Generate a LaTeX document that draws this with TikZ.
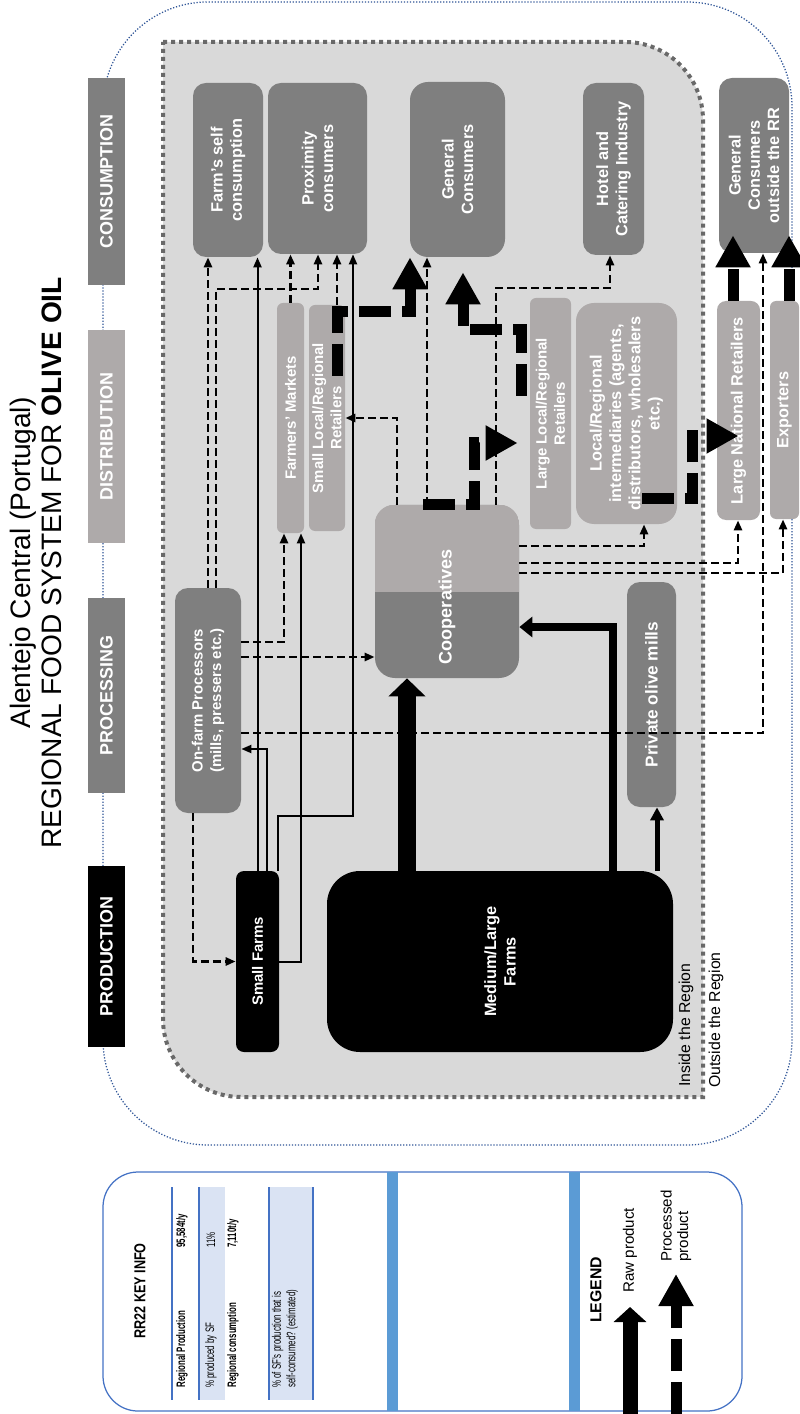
\documentclass[tikz,border=0pt]{standalone}
\usepackage{fontspec}
\setmainfont{Liberation Sans}
\usepackage{graphicx}
\usetikzlibrary{positioning}
\usetikzlibrary{arrows.meta,calc}

\definecolor{dkgray}{RGB}{127,127,127}
\definecolor{ltgray}{RGB}{174,170,170}
\definecolor{regiongray}{RGB}{217,217,217}
\definecolor{dotgray}{RGB}{105,105,105}
\definecolor{rrblue}{RGB}{47,85,151}
\definecolor{lineblue}{RGB}{68,114,196}
\definecolor{barblue}{RGB}{91,155,213}
\definecolor{rowblue}{RGB}{218,227,243}

\newcommand{\boxfont}{\fontsize{9.3}{11}\selectfont\bfseries}
\newcommand{\smallboxfont}{\fontsize{8.5}{10.4}\selectfont\bfseries}
\newcommand{\phasefont}{\fontsize{10.2}{12}\selectfont\bfseries}
\newcommand{\keytxt}[1]{\scalebox{0.64}[1]{#1}}

\tikzset{
  box/.style={rotate=90, rounded corners=2.6mm, text=white, font=\boxfont, align=center, inner sep=0pt},
  dkbox/.style={box, fill=dkgray},
  ltbox/.style={box, fill=ltgray},
  blkbox/.style={box, fill=black},
  phase/.style={rotate=90, minimum height=7.4mm, text=white, font=\phasefont, inner sep=0pt},
  lbl/.style={rotate=90, anchor=west, inner sep=0pt, align=left},
  keyrow/.style={lbl, font=\fontsize{7}{8.3}\selectfont},
  raw/.style={line width=0.4mm, -{Triangle[length=2mm,width=1.6mm]}},
  proc/.style={line width=0.5mm, dash pattern=on 1.6mm off 0.8mm, -{Triangle[length=2mm,width=1.6mm]}},
  rawthick/.style={line width=3.6mm, -{Triangle[length=3.6mm,width=7.2mm]}},
  procthick/.style={line width=2.2mm, dash pattern=on 6.4mm off 2.2mm, -{Triangle[length=6.4mm,width=6.6mm]}},
}

\begin{document}
\begin{tikzpicture}[x=0.2mm, y=-0.2mm]
 \useasboundingbox (0,0) rectangle (799,1414);
 % region outline and key box
 \draw[rrblue, line width=0.25mm, densely dotted, rounded corners=21mm] (103,2) rectangle (792,1145);
 \draw[lineblue, line width=0.25mm, rounded corners=7mm] (103,1172) rectangle (742,1411);
 \fill[barblue] (387,1172) rectangle (398,1411);
 \fill[barblue] (569,1172) rectangle (580,1411);
 % title
 \node[rotate=90, align=center, font=\fontsize{16}{17.6}\selectfont] (title) at (36,563)
  {Alentejo Central (Portugal)\\REGIONAL FOOD SYSTEM FOR \textbf{OLIVE OIL}};
 % phases
 \node[phase, fill=black, minimum width=36.2mm] (pprod) at (106.5,956.5) {PRODUCTION};
 \node[phase, fill=dkgray, minimum width=39mm] (pproc) at (106.5,695.5) {PROCESSING};
 \node[phase, fill=ltgray, minimum width=42.6mm] (pdist) at (106.5,436.5) {DISTRIBUTION};
 \node[phase, fill=dkgray, minimum width=41.4mm] (pcons) at (106.5,181.5) {CONSUMPTION};
 % inside the region
 \filldraw[fill=regiongray, draw=dotgray, line width=0.8mm, dash pattern=on 0.8mm off 0.8mm]
  (163,42) -- (625,42) .. controls (668,42) and (703,77) .. (703,120) -- (703,1097)
  -- (241,1097) .. controls (198,1097) and (163,1062) .. (163,1019) -- cycle;
 \node[lbl, font=\fontsize{9}{10}\selectfont] (inside) at (686,1087) {Inside the Region};
 \node[lbl, font=\fontsize{9}{10}\selectfont] (outside) at (716,1088) {Outside the Region};
 % consumption
 \node[dkbox, minimum width=34.8mm, minimum height=14mm] (fsc) at (228,170) {Farm’s self\\consumption};
 \node[dkbox, minimum width=34.2mm, minimum height=19.8mm] (prox) at (317.5,168.5) {Proximity\\consumers};
 \node[dkbox, minimum width=35mm, minimum height=19mm, rounded corners=3.6mm] (gcons) at (457.5,169.5) {General\\Consumers};
 \node[dkbox, minimum width=34.4mm, minimum height=12.2mm] (hotel) at (613.5,169) {Hotel and\\Catering Industry};
 \node[dkbox, minimum width=35mm, minimum height=14mm] (gout) at (754,165.5) {General\\Consumers\\outside the RR};
 % distribution
 \node[ltbox, minimum width=46mm, minimum height=5.4mm, rounded corners=1.2mm, font=\smallboxfont] (fmkt) at (290.5,418) {Farmers’ Markets};
 \node[ltbox, minimum width=45.2mm, minimum height=7.2mm, rounded corners=1.2mm, font=\smallboxfont] (sret) at (327,418) {Small Local/Regional\\Retailers};
 \node[ltbox, minimum width=46.2mm, minimum height=8.2mm, rounded corners=1.2mm, font=\smallboxfont] (lret) at (550.5,413.5) {Large Local/Regional\\Retailers};
 \node[ltbox, minimum width=44.2mm, minimum height=20.2mm, rounded corners=3.6mm] (inter) at (626.5,413.5) {Local/Regional\\intermediaries (agents,\\distributors, wholesalers\\etc.)};
 \node[ltbox, minimum width=43.8mm, minimum height=8.6mm, rounded corners=1.8mm] (lnat) at (738.5,410.5) {Large National Retailers};
 \node[ltbox, minimum width=43.6mm, minimum height=5.8mm, rounded corners=1.2mm] (exp) at (784.5,410) {Exporters};
 % processing
 \node[dkbox, minimum width=45mm, minimum height=13.2mm, font=\smallboxfont] (onfarm) at (208,700.5) {On-farm Processors\\(mills, pressers etc.)};
 \node[dkbox, minimum width=34.6mm, minimum height=28.8mm, rounded corners=4mm] (coop) at (447,591.5) {};
 \begin{scope}
  \clip[rounded corners=4mm] (coop.north east) rectangle (coop.south west);
  \fill[ltgray] (coop.north east) rectangle (coop.south |- 0,592);
 \end{scope}
 \node[box, font=\fontsize{10.3}{12}\selectfont\bfseries] (cooptxt) at (447,607) {Cooperatives};
 \node[dkbox, minimum width=45mm, minimum height=9.8mm, font=\fontsize{9.8}{11}\selectfont\bfseries] (pom) at (651.5,694.5) {Private olive mills};
 % production
 \node[blkbox, minimum width=36.2mm, minimum height=8.6mm, rounded corners=1.6mm, font=\smallboxfont] (sf) at (257.5,961.5) {Small Farms};
 \node[blkbox, minimum width=36.2mm, minimum height=69.2mm, rounded corners=6.6mm] (mlf) at (500,961.5) {Medium/Large\\Farms};

 % raw product
 \draw[raw] (sf.east) -- (sf.east |- fsc.west);
 \draw[raw] (sf.east -| 267,0) |- (onfarm.south |- 0,749);
 \draw[raw] (sf.east -| 278,0) -- (278,816) -| (prox.west -| 353,0);
 \draw[raw] (sf.south) -| (fmkt.west -| 301,0);
 \draw[rawthick] (mlf.east -| 407,0) -- (coop.west -| 407,0);
 \draw[line width=1.6mm, -{Triangle[length=2.6mm,width=4mm]}] (mlf.east -| 613,0) |- (coop.south |- 0,627);
 \draw[line width=1mm, -{Triangle[length=2.6mm,width=2.6mm]}] (mlf.east -| 657,0) -- (pom.west -| 657,0);
 % processed product
 \draw[proc] (onfarm.east) -- (onfarm.east |- fsc.west);
 \draw[proc] (onfarm.east -| 216,0) -- (216,289) -| (prox.west -| 318,0);
 \draw[proc] (onfarm.south |- 0,642) -| (fmkt.west -| 284,0);
 \draw[proc] (onfarm.south |- 0,657) -- (coop.north |- 0,657);
 \draw[proc] (onfarm.south |- 0,733) -| (gout.west -| 763,0);
 \draw[proc] (onfarm.west -| 193,0) |- (sf.north);
 \draw[proc] (fmkt.east) -- (fmkt.east |- prox.west);
 \draw[proc] (sret.east -| 337,0) -- (prox.west -| 337,0);
 \draw[proc] (coop.east -| 397,0) |- (sret.south);
 \draw[proc] (coop.east -| 427,0) -- (gcons.west -| 427,0);
 \draw[proc] (coop.east -| 496,0) -- (496,288) -| (hotel.west -| 610,0);
 \draw[proc] (coop.south |- 0,546) -| (inter.west -| 644,0);
 \draw[proc] (coop.south |- 0,563) -| (lnat.west -| 738,0);
 \draw[proc] (coop.south |- 0,573) -| (exp.west -| 783,0);
 \draw[procthick] ($(sret.center)+(10,-42)$) -- ++(0,-64) -| (gcons.west -| 410,0);
 \draw[procthick, shorten >=2.4mm] (coop.east -| 423,0) -- (coop.east -| 474,0) |- (lret.north |- 0,443);
 \draw[procthick, shorten >=3mm] ($(lret.north)+(-8,-17.5)$) -- ++(0,-66) -| (gcons.west -| 463,0);
 \draw[procthick] ($(inter.west)+(15.5,-26)$) -- ++(50,0) |- (lnat.center |- 0,436);
 \draw[procthick] (lnat.east -| 733,0) -- ($(gout.west -| 733,0)+(0,-18)$);
 \draw[procthick] (exp.east -| 789,0) -- ($(gout.west -| 789,0)+(0,-18)$);

 % key info
 \node[rotate=90, font=\fontsize{9}{10}\selectfont\bfseries] (keyhead) at (140,1291) {\scalebox{0.8}[1]{RR22 KEY INFO}};
 \fill[rowblue] (199,1187) rectangle (225,1400);
 \fill[rowblue] (269,1187) rectangle (313,1400);
 \draw[lineblue, line width=0.35mm] (172,1187) -- (172,1400) (199,1187) -- (199,1400)
  (269,1187) -- (269,1400) (313,1187) -- (313,1400);
 \node[keyrow] (prodlbl) at (182,1388) {\keytxt{\bfseries Regional Production}};
 \node[keyrow] (prodval) at (182,1248) {\keytxt{\bfseries 95,584t/y}};
 \node[keyrow] (sflbl) at (211,1388) {\keytxt{\% produced by SF}};
 \node[keyrow] (sfval) at (211,1248) {\keytxt{11\%}};
 \node[keyrow] (conslbl) at (233,1388) {\keytxt{\bfseries Regional consumption}};
 \node[keyrow] (consval) at (233,1248) {\keytxt{\bfseries 7,110t/y}};
 \node[keyrow] (selflbl) at (285,1388) {\keytxt{\% of SF's production that is}\\\keytxt{self-consumed? (estimated)}};
 % legend
 \node[lbl, font=\fontsize{9}{10}\selectfont\bfseries] (legend) at (596,1323) {LEGEND};
 \node[lbl, font=\fontsize{8.6}{10}\selectfont] (rawtxt) at (630,1293) {Raw product};
 \node[lbl, font=\fontsize{8.6}{9.4}\selectfont] (proctxt) at (676,1262) {Processed\\product};
 \draw[line width=3mm, -{Triangle[length=3mm,width=6.4mm]}] (rawtxt.west |- 0,1414) -- ($(rawtxt.west)+(0,14)$);
 \draw[procthick] (proctxt.west |- 0,1414) -- ($(proctxt.west)+(0,12)$);
\end{tikzpicture}
\end{document}
